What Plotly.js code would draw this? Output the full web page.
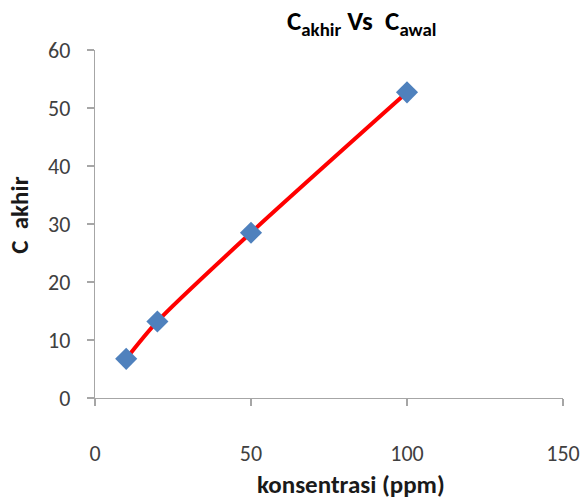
<!DOCTYPE html>
<html><head><meta charset="utf-8">
<script src="https://cdn.plot.ly/plotly-3.0.1.min.js"></script>
<style>html,body{margin:0;padding:0;background:#fff}#chart{width:587px;height:499px}</style>
</head><body><div id="chart"></div>
<script>
const konsentrasi = [10, 20, 50, 100];
const cAkhir = [6.75, 13.2, 28.5, 52.7];
const xTicks = [0, 50, 100, 150];
const yTicks = [0, 10, 20, 30, 40, 50, 60];

const FONT = "Carlito, 'Liberation Sans Narrow', 'Open Sans', sans-serif";

const traces = [
  {x: konsentrasi, y: cAkhir, mode: 'lines', line: {color: '#ff0000', width: 4, shape: 'spline', smoothing: 0.8}, hoverinfo: 'skip', showlegend: false},
  {x: konsentrasi, y: cAkhir, mode: 'markers', marker: {symbol: 'diamond', size: 17, color: '#4f81bd'}, showlegend: false}
];

const axisCommon = {showgrid: false, zeroline: false, showline: true, linecolor: '#a6a6a6', linewidth: 1.3,
  ticks: 'outside', ticklen: 7, tickcolor: '#a6a6a6', tickwidth: 1.3,
  tickfont: {family: FONT, size: 22, color: '#404040'}};

const layout = {
  width: 587, height: 499,
  margin: {l: 95, r: 24, t: 50, b: 101},
  paper_bgcolor: '#fff', plot_bgcolor: '#fff',
  xaxis: Object.assign({}, axisCommon, {range: [0, 150], tickvals: xTicks, ticktext: xTicks.map(String), ticklabelstandoff: 28}),
  yaxis: Object.assign({}, axisCommon, {range: [0, 60], tickvals: yTicks, ticktext: yTicks.map(String), ticklabelstandoff: 12}),
  annotations: [
    {text: '<b>C<sub>akhir</sub> Vs  C<sub>awal</sub></b>', xref: 'paper', yref: 'paper', x: 0.57, y: 1, yshift: 7, yanchor: 'bottom', xanchor: 'center', showarrow: false, font: {family: FONT, size: 27, color: '#000'}},
    {text: '<b>konsentrasi (ppm)</b>', xref: 'paper', yref: 'paper', x: 0.548, y: 0, yshift: -104, yanchor: 'bottom', xanchor: 'center', showarrow: false, font: {family: FONT, size: 25, color: '#1a1a1a'}},
    {text: '<b>C  akhir</b>', xref: 'paper', yref: 'paper', x: 0, xshift: -93, xanchor: 'left', y: 0.525, yanchor: 'middle', textangle: -90, showarrow: false, font: {family: FONT, size: 25, color: '#1a1a1a'}}
  ]
};

Plotly.newPlot('chart', traces, layout, {displayModeBar: false, staticPlot: true});
</script>
</body></html>
